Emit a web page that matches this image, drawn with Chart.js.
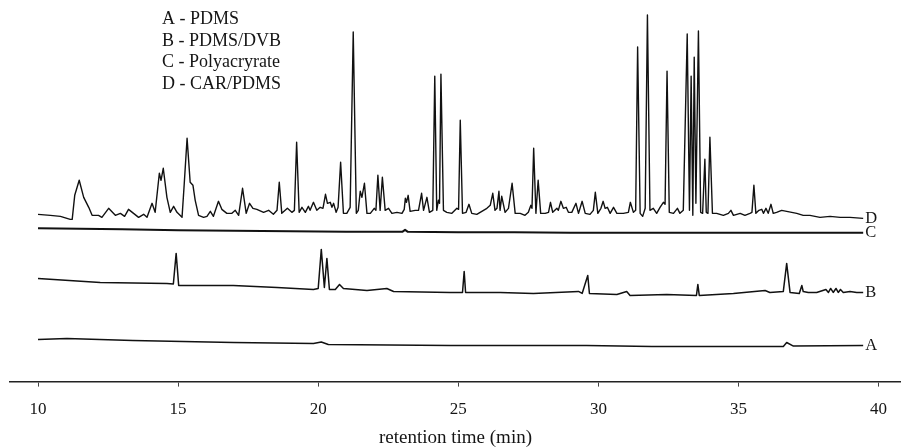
<!DOCTYPE html>
<html><head><meta charset="utf-8">
<script src="https://cdn.jsdelivr.net/npm/chart.js@4.4.1/dist/chart.umd.min.js"></script>
<style>html,body{margin:0;padding:0;background:#fff;overflow:hidden}#wrap{width:901px;height:447px;position:relative}</style>
</head><body><div id="wrap"><canvas id="c" width="901" height="447"></canvas></div>
<script>
// ---- data ----
const seriesNames = ['A', 'B', 'C', 'D'];
const legendLabels = ['A - PDMS', 'B - PDMS/DVB', 'C - Polyacryrate', 'D - CAR/PDMS'];
const xTicks = [10, 15, 20, 25, 30, 35, 40];
const traceOffsets = [42, 103, 153, 167]; // vertical stacking of A, B, C, D

const aTime = [10.00, 11.03, 13.38, 16.97, 19.83, 20.11, 20.36, 24.71, 29.58, 31.91, 36.60, 36.72, 36.96, 39.45];
const aResp = [0, 1, -1, -3, -4, -2.5, -5, -6, -6, -7, -7, -3, -6.5, -6];

const bTime = [10.00, 10.56, 12.22, 14.60, 14.83, 14.93, 15.02, 16.97, 18.53, 19.83,
  20.00, 20.11, 20.22, 20.31, 20.40, 20.61, 20.76, 20.90, 21.74, 22.45,
  22.69, 24.71, 25.15, 25.21, 25.26, 26.49, 27.68, 29.29, 29.42, 29.62,
  29.68, 30.66, 31.01, 31.13, 32.44, 33.50, 33.55, 33.60, 34.82, 35.95,
  36.12, 36.60, 36.72, 36.84, 37.17, 37.26, 37.31, 37.49, 37.79, 38.12,
  38.21, 38.29, 38.38, 38.48, 38.56, 38.64, 38.74, 38.98, 39.22, 39.45];
const bResp = [0, -1, -4, -5, -5.5, 25, -7, -7, -9, -11,
  -10, 29, -9, 20, -11, -11, -6, -10, -12, -10,
  -13, -14, -14, 7, -14, -14, -15, -13, -15, 3,
  -15, -16, -13, -17, -16, -17, -6, -17, -15, -12,
  -14, -13, 15, -14, -15, -7, -13, -14, -14, -11,
  -14, -10, -14, -10, -14, -11, -14, -13, -14, -14];

const cTime = [10.00, 11.5, 13.0, 15.0, 17.0, 19.0, 21.0, 23.0, 23.1, 23.2, 25.0, 27.0, 29.0, 31.0, 33.0, 35.0, 37.0, 39.45];
const cResp = [0, -0.5, -1, -2, -2.5, -3, -3.5, -3.5, -1.5, -3.5, -4, -4, -4.5, -4.5, -4.5, -4.5, -4.5, -4.5];

const dTime = [10.00, 10.44, 10.80, 11.15, 11.22, 11.31, 11.47, 11.63, 11.81, 11.93,
  12.16, 12.28, 12.52, 12.76, 12.94, 13.09, 13.23, 13.41, 13.59, 13.77,
  13.89, 14.07, 14.18, 14.33, 14.39, 14.47, 14.60, 14.72, 14.84, 14.96,
  15.14, 15.22, 15.32, 15.43, 15.53, 15.61, 15.73, 15.91, 16.03, 16.15,
  16.26, 16.44, 16.56, 16.74, 16.92, 17.04, 17.16, 17.30, 17.43, 17.55,
  17.67, 17.81, 18.05, 18.23, 18.40, 18.53, 18.61, 18.70, 18.90, 19.06,
  19.15, 19.23, 19.32, 19.42, 19.54, 19.65, 19.71, 19.83, 19.95, 20.07,
  20.17, 20.26, 20.33, 20.43, 20.49, 20.55, 20.64, 20.71, 20.80, 20.90,
  21.02, 21.14, 21.25, 21.36, 21.43, 21.50, 21.56, 21.65, 21.74, 21.86,
  22.00, 22.06, 22.13, 22.21, 22.29, 22.39, 22.51, 22.63, 22.81, 22.99,
  23.07, 23.11, 23.15, 23.21, 23.28, 23.46, 23.58, 23.69, 23.76, 23.88,
  23.97, 24.09, 24.16, 24.23, 24.29, 24.33, 24.38, 24.47, 24.59, 24.77,
  24.95, 25.01, 25.07, 25.15, 25.28, 25.38, 25.48, 25.66, 25.90, 26.02,
  26.14, 26.23, 26.31, 26.38, 26.45, 26.49, 26.55, 26.67, 26.79, 26.92,
  27.03, 27.21, 27.38, 27.50, 27.59, 27.63, 27.69, 27.77, 27.85, 27.94,
  28.10, 28.22, 28.29, 28.37, 28.52, 28.57, 28.66, 28.75, 28.85, 28.93,
  29.05, 29.20, 29.29, 29.42, 29.53, 29.70, 29.82, 29.89, 29.98, 30.09,
  30.17, 30.24, 30.32, 30.42, 30.54, 30.66, 30.89, 31.07, 31.14, 31.25,
  31.33, 31.40, 31.49, 31.58, 31.67, 31.75, 31.84, 31.96, 32.08, 32.20,
  32.32, 32.38, 32.45, 32.53, 32.68, 32.82, 32.91, 33.03, 33.17, 33.25,
  33.31, 33.37, 33.42, 33.48, 33.57, 33.65, 33.72, 33.80, 33.85, 33.91,
  33.98, 34.07, 34.22, 34.46, 34.64, 34.73, 34.82, 35.06, 35.23, 35.41,
  35.48, 35.55, 35.62, 35.73, 35.83, 35.89, 35.98, 36.06, 36.16, 36.24,
  36.36, 36.54, 36.72, 36.90, 37.08, 37.31, 37.55, 37.91, 38.27, 38.63,
  38.98, 39.45];
const dResp = [0, -1, -2, -5, -5, 19, 34, 17, 7, -1,
  -1, -3, 6, -1, 1, -2, 5, 1, -3, 0,
  -3, 11, 2, 41, 34, 46, 17, 2, 8, 2,
  -3, 31, 76, 32, 29, 14, -1, -3, -2, 3,
  -2, 13, 5, 1, 1, 4, -1, 26, 1, 11,
  6, 5, 2, 4, 0, 4, 32, 1, 6, 2,
  4, 72, 2, 7, 2, 8, 4, 12, 4, 7,
  6, 20, 11, 12, 7, 11, 2, 7, 52, 1,
  1, 7, 182, 1, 4, 23, 17, 31, 1, 1,
  6, 4, 39, 4, 37, 4, 6, 1, 2, 1,
  5, 16, 12, 19, 3, 4, 4, 21, 4, 17,
  2, 4, 138, 4, 14, 11, 140, 4, 2, 1,
  6, 5, 94, 1, 2, 10, 1, 0, 4, 6,
  9, 21, 4, 6, 23, 4, 18, 2, 6, 31,
  1, 1, -1, 2, 9, 6, 66, 1, 34, 1,
  1, 2, 12, 2, 6, 4, 13, 6, 7, 2,
  2, 11, 1, 13, 1, 0, 4, 22, 1, 6,
  13, 6, 7, 1, 7, 1, 1, 2, 12, 2,
  4, 167, 1, -2, 6, 199, 4, 6, 1, 7,
  12, 10, 143, 2, 1, 6, 1, 4, 180, 4,
  138, -1, 157, 11, 183, 2, 1, 55, 2, 1,
  77, 1, 1, -1, 1, 4, -1, 1, -1, 1,
  2, 29, 1, 4, 5, 1, 6, 1, 10, 1,
  2, 4, 3, 2, 1, -1, -1, -3, -2, -3,
  -3, -4];

// ---- build ----
const traces = [[aTime, aResp], [bTime, bResp], [cTime, cResp], [dTime, dResp]];
const widths = [1.5, 1.5, 2.0, 1.4];
const datasets = traces.map(([t, r], i) => ({
  label: seriesNames[i],
  data: t.map((x, k) => ({ x: x, y: traceOffsets[i] + r[k] })),
  borderColor: '#111',
  borderWidth: widths[i],
  borderJoinStyle: 'round',
  pointRadius: 0,
  tension: 0,
  fill: false
}));

const serif = "'Liberation Serif', 'Times New Roman', serif";

const labelPlugin = {
  id: 'traceLabels',
  afterDatasetsDraw(chart) {
    const { ctx, scales } = chart;
    ctx.save();
    ctx.fillStyle = '#151515';
    ctx.font = '16.5px ' + serif;
    ctx.textAlign = 'left';
    ctx.textBaseline = 'middle';
    traces.forEach(([t, r], i) => {
      const n = t.length - 1;
      const px = scales.x.getPixelForValue(t[n]);
      const py = scales.y.getPixelForValue(traceOffsets[i] + r[n]);
      ctx.fillText(seriesNames[i], px + 2, py);
    });
    ctx.font = '18px ' + serif;
    ctx.textBaseline = 'alphabetic';
    legendLabels.forEach((s, i) => {
      ctx.fillText(s, 162, 24 + i * 21.5);
    });
    ctx.restore();
  }
};

new Chart(document.getElementById('c').getContext('2d'), {
  type: 'line',
  data: { datasets: datasets },
  options: {
    responsive: false,
    animation: false,
    devicePixelRatio: 1,
    layout: { padding: { left: 10, right: 0, top: 0, bottom: 0 } },
    plugins: { legend: { display: false }, tooltip: { enabled: false } },
    scales: {
      x: {
        type: 'linear', min: 9, max: 40.8,
        afterBuildTicks: (scale) => { scale.ticks = xTicks.map(v => ({ value: v })); },
        border: { display: true, color: '#222', width: 1.6 },
        grid: { display: true, drawOnChartArea: false, drawTicks: true, tickLength: 5, color: '#444', lineWidth: 1 },
        ticks: { color: '#151515', font: { family: serif, size: 17 }, padding: 13, maxRotation: 0, autoSkip: false },
        title: { display: true, text: 'retention time (min)', color: '#151515', font: { family: serif, size: 19, lineHeight: 1.0 }, padding: { top: -4, bottom: -1 } }
      },
      y: { display: false, min: 0, max: 381 }
    }
  },
  plugins: [labelPlugin]
});
</script>
</body></html>
